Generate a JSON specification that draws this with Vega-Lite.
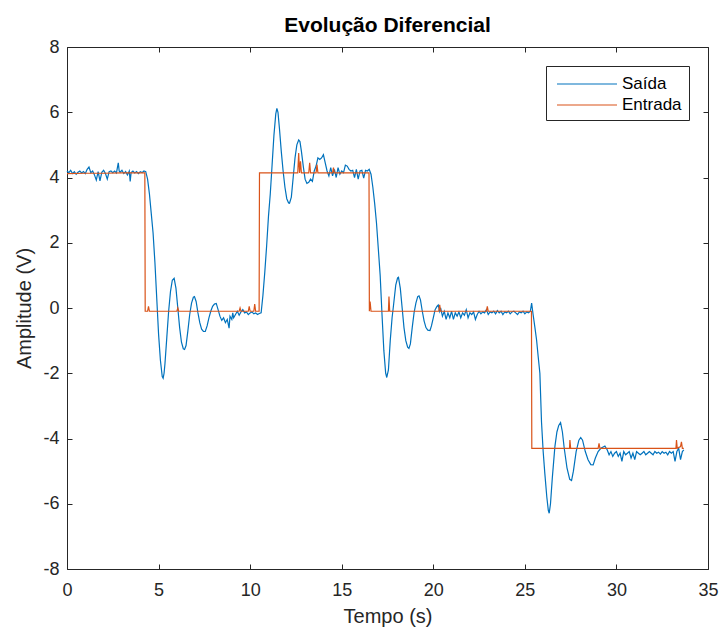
{
  "$schema": "https://vega.github.io/schema/vega-lite/v6.json",
  "autosize": {"type": "none"},
  "width": 641,
  "height": 522,
  "padding": {"left": 67, "top": 47, "right": 12, "bottom": 59},
  "background": "white",
  "config": {
    "font": "Liberation Sans",
    "view": {"stroke": null},
    "axis": {"grid": false, "domainColor": "#262626", "tickColor": "#262626", "labelColor": "#262626", "titleColor": "#262626", "labelFont": "Liberation Sans", "titleFont": "Liberation Sans", "titleFontWeight": "normal", "domainWidth": 1, "tickWidth": 1}
  },
  "title": {"text": "Evolução Diferencial", "fontSize": 21, "fontWeight": "bold", "color": "#000000", "font": "Liberation Sans", "anchor": "middle", "frame": "group", "baseline": "alphabetic", "offset": 14, "dy": 29},
  "datasets": {
    "saida": [
      {"t":0.0,"v":4.20,"s":"Saída"},{"t":0.1,"v":4.15,"s":"Saída"},{"t":0.2,"v":4.22,"s":"Saída"},{"t":0.3,"v":4.12,"s":"Saída"},{"t":0.4,"v":4.18,"s":"Saída"},{"t":0.5,"v":4.10,"s":"Saída"},{"t":0.6,"v":4.16,"s":"Saída"},{"t":0.7,"v":4.20,"s":"Saída"},{"t":0.8,"v":4.14,"s":"Saída"},{"t":0.9,"v":4.18,"s":"Saída"},
      {"t":1.0,"v":4.12,"s":"Saída"},{"t":1.1,"v":4.25,"s":"Saída"},{"t":1.2,"v":4.32,"s":"Saída"},{"t":1.3,"v":4.15,"s":"Saída"},{"t":1.4,"v":4.20,"s":"Saída"},{"t":1.5,"v":4.08,"s":"Saída"},{"t":1.6,"v":3.92,"s":"Saída"},{"t":1.7,"v":4.18,"s":"Saída"},{"t":1.8,"v":3.90,"s":"Saída"},{"t":1.9,"v":4.16,"s":"Saída"},
      {"t":2.0,"v":4.22,"s":"Saída"},{"t":2.1,"v":4.12,"s":"Saída"},{"t":2.2,"v":3.95,"s":"Saída"},{"t":2.3,"v":4.18,"s":"Saída"},{"t":2.4,"v":4.20,"s":"Saída"},{"t":2.5,"v":4.15,"s":"Saída"},{"t":2.6,"v":4.20,"s":"Saída"},{"t":2.7,"v":4.14,"s":"Saída"},{"t":2.8,"v":4.45,"s":"Saída"},{"t":2.85,"v":4.20,"s":"Saída"},{"t":2.9,"v":4.16,"s":"Saída"},
      {"t":3.0,"v":4.22,"s":"Saída"},{"t":3.1,"v":4.12,"s":"Saída"},{"t":3.2,"v":4.18,"s":"Saída"},{"t":3.3,"v":4.08,"s":"Saída"},{"t":3.4,"v":4.20,"s":"Saída"},{"t":3.45,"v":3.88,"s":"Saída"},{"t":3.5,"v":4.15,"s":"Saída"},{"t":3.6,"v":4.20,"s":"Saída"},{"t":3.7,"v":4.14,"s":"Saída"},{"t":3.8,"v":4.18,"s":"Saída"},{"t":3.9,"v":4.12,"s":"Saída"},
      {"t":4.0,"v":4.18,"s":"Saída"},{"t":4.1,"v":4.15,"s":"Saída"},{"t":4.2,"v":4.20,"s":"Saída"},{"t":4.3,"v":4.18,"s":"Saída"},{"t":4.4,"v":3.95,"s":"Saída"},{"t":4.5,"v":3.5,"s":"Saída"},{"t":4.6,"v":2.9,"s":"Saída"},{"t":4.7,"v":2.3,"s":"Saída"},{"t":4.8,"v":1.4,"s":"Saída"},{"t":4.9,"v":0.3,"s":"Saída"},
      {"t":5.0,"v":-0.8,"s":"Saída"},{"t":5.1,"v":-1.6,"s":"Saída"},{"t":5.2,"v":-2.1,"s":"Saída"},{"t":5.25,"v":-2.15,"s":"Saída"},{"t":5.3,"v":-2.0,"s":"Saída"},{"t":5.35,"v":-1.7,"s":"Saída"},{"t":5.45,"v":-0.9,"s":"Saída"},{"t":5.55,"v":-0.1,"s":"Saída"},{"t":5.65,"v":0.5,"s":"Saída"},{"t":5.75,"v":0.85,"s":"Saída"},{"t":5.85,"v":0.91,"s":"Saída"},{"t":5.95,"v":0.6,"s":"Saída"},
      {"t":6.05,"v":0.0,"s":"Saída"},{"t":6.15,"v":-0.6,"s":"Saída"},{"t":6.25,"v":-1.05,"s":"Saída"},{"t":6.35,"v":-1.25,"s":"Saída"},{"t":6.42,"v":-1.27,"s":"Saída"},{"t":6.5,"v":-1.15,"s":"Saída"},{"t":6.6,"v":-0.7,"s":"Saída"},{"t":6.7,"v":-0.2,"s":"Saída"},{"t":6.8,"v":0.15,"s":"Saída"},{"t":6.9,"v":0.33,"s":"Saída"},{"t":6.96,"v":0.35,"s":"Saída"},
      {"t":7.05,"v":0.2,"s":"Saída"},{"t":7.15,"v":-0.15,"s":"Saída"},{"t":7.25,"v":-0.45,"s":"Saída"},{"t":7.35,"v":-0.65,"s":"Saída"},{"t":7.45,"v":-0.72,"s":"Saída"},{"t":7.55,"v":-0.72,"s":"Saída"},{"t":7.65,"v":-0.55,"s":"Saída"},{"t":7.75,"v":-0.3,"s":"Saída"},{"t":7.85,"v":-0.1,"s":"Saída"},{"t":7.95,"v":0.05,"s":"Saída"},
      {"t":8.05,"v":0.12,"s":"Saída"},{"t":8.15,"v":0.14,"s":"Saída"},{"t":8.25,"v":-0.05,"s":"Saída"},{"t":8.35,"v":-0.25,"s":"Saída"},{"t":8.45,"v":-0.38,"s":"Saída"},{"t":8.55,"v":-0.3,"s":"Saída"},{"t":8.65,"v":-0.45,"s":"Saída"},{"t":8.75,"v":-0.35,"s":"Saída"},{"t":8.85,"v":-0.62,"s":"Saída"},{"t":8.9,"v":-0.25,"s":"Saída"},
      {"t":9.0,"v":-0.35,"s":"Saída"},{"t":9.05,"v":-0.15,"s":"Saída"},{"t":9.1,"v":-0.3,"s":"Saída"},{"t":9.2,"v":-0.2,"s":"Saída"},{"t":9.3,"v":-0.1,"s":"Saída"},{"t":9.4,"v":-0.22,"s":"Saída"},{"t":9.5,"v":-0.12,"s":"Saída"},{"t":9.6,"v":-0.05,"s":"Saída"},{"t":9.7,"v":-0.15,"s":"Saída"},{"t":9.8,"v":-0.12,"s":"Saída"},{"t":9.9,"v":-0.2,"s":"Saída"},
      {"t":10.0,"v":-0.15,"s":"Saída"},{"t":10.1,"v":-0.12,"s":"Saída"},{"t":10.2,"v":-0.18,"s":"Saída"},{"t":10.3,"v":-0.15,"s":"Saída"},{"t":10.4,"v":-0.2,"s":"Saída"},{"t":10.5,"v":-0.17,"s":"Saída"},{"t":10.6,"v":-0.15,"s":"Saída"},{"t":10.7,"v":0.4,"s":"Saída"},{"t":10.8,"v":1.1,"s":"Saída"},{"t":10.9,"v":1.9,"s":"Saída"},
      {"t":11.0,"v":2.8,"s":"Saída"},{"t":11.1,"v":3.5,"s":"Saída"},{"t":11.2,"v":4.4,"s":"Saída"},{"t":11.3,"v":5.3,"s":"Saída"},{"t":11.4,"v":5.95,"s":"Saída"},{"t":11.46,"v":6.12,"s":"Saída"},{"t":11.52,"v":6.0,"s":"Saída"},{"t":11.6,"v":5.5,"s":"Saída"},{"t":11.7,"v":4.8,"s":"Saída"},{"t":11.8,"v":4.2,"s":"Saída"},{"t":11.9,"v":3.7,"s":"Saída"},
      {"t":12.0,"v":3.35,"s":"Saída"},{"t":12.1,"v":3.22,"s":"Saída"},{"t":12.15,"v":3.21,"s":"Saída"},{"t":12.25,"v":3.4,"s":"Saída"},{"t":12.35,"v":4.0,"s":"Saída"},{"t":12.45,"v":4.6,"s":"Saída"},{"t":12.55,"v":5.0,"s":"Saída"},{"t":12.65,"v":5.15,"s":"Saída"},{"t":12.72,"v":5.1,"s":"Saída"},{"t":12.8,"v":4.8,"s":"Saída"},{"t":12.9,"v":4.35,"s":"Saída"},
      {"t":13.0,"v":3.95,"s":"Saída"},{"t":13.1,"v":3.82,"s":"Saída"},{"t":13.2,"v":3.85,"s":"Saída"},{"t":13.3,"v":3.95,"s":"Saída"},{"t":13.4,"v":3.88,"s":"Saída"},{"t":13.5,"v":4.2,"s":"Saída"},{"t":13.6,"v":4.35,"s":"Saída"},{"t":13.7,"v":4.6,"s":"Saída"},{"t":13.8,"v":4.55,"s":"Saída"},{"t":13.9,"v":4.6,"s":"Saída"},
      {"t":14.0,"v":4.7,"s":"Saída"},{"t":14.1,"v":4.45,"s":"Saída"},{"t":14.2,"v":4.2,"s":"Saída"},{"t":14.3,"v":4.05,"s":"Saída"},{"t":14.4,"v":4.3,"s":"Saída"},{"t":14.5,"v":4.05,"s":"Saída"},{"t":14.6,"v":4.25,"s":"Saída"},{"t":14.7,"v":4.0,"s":"Saída"},{"t":14.8,"v":4.3,"s":"Saída"},{"t":14.9,"v":4.1,"s":"Saída"},
      {"t":15.0,"v":4.2,"s":"Saída"},{"t":15.1,"v":4.15,"s":"Saída"},{"t":15.2,"v":4.38,"s":"Saída"},{"t":15.3,"v":4.35,"s":"Saída"},{"t":15.4,"v":4.25,"s":"Saída"},{"t":15.5,"v":4.2,"s":"Saída"},{"t":15.6,"v":4.22,"s":"Saída"},{"t":15.7,"v":4.0,"s":"Saída"},{"t":15.8,"v":4.25,"s":"Saída"},{"t":15.9,"v":3.95,"s":"Saída"},
      {"t":16.0,"v":4.2,"s":"Saída"},{"t":16.1,"v":4.22,"s":"Saída"},{"t":16.2,"v":3.98,"s":"Saída"},{"t":16.3,"v":4.22,"s":"Saída"},{"t":16.4,"v":4.2,"s":"Saída"},{"t":16.5,"v":4.25,"s":"Saída"},{"t":16.6,"v":4.1,"s":"Saída"},{"t":16.7,"v":3.7,"s":"Saída"},{"t":16.8,"v":3.2,"s":"Saída"},{"t":16.9,"v":2.6,"s":"Saída"},
      {"t":17.0,"v":1.8,"s":"Saída"},{"t":17.1,"v":1.0,"s":"Saída"},{"t":17.2,"v":-0.2,"s":"Saída"},{"t":17.3,"v":-1.3,"s":"Saída"},{"t":17.4,"v":-2.0,"s":"Saída"},{"t":17.46,"v":-2.13,"s":"Saída"},{"t":17.55,"v":-1.9,"s":"Saída"},{"t":17.65,"v":-1.0,"s":"Saída"},{"t":17.75,"v":-0.3,"s":"Saída"},{"t":17.82,"v":0.04,"s":"Saída"},{"t":17.95,"v":0.7,"s":"Saída"},
      {"t":18.05,"v":0.92,"s":"Saída"},{"t":18.1,"v":0.94,"s":"Saída"},{"t":18.2,"v":0.6,"s":"Saída"},{"t":18.3,"v":0.0,"s":"Saída"},{"t":18.4,"v":-0.6,"s":"Saída"},{"t":18.5,"v":-1.0,"s":"Saída"},{"t":18.6,"v":-1.2,"s":"Saída"},{"t":18.67,"v":-1.24,"s":"Saída"},{"t":18.75,"v":-1.1,"s":"Saída"},{"t":18.85,"v":-0.6,"s":"Saída"},{"t":18.95,"v":-0.15,"s":"Saída"},
      {"t":19.05,"v":0.15,"s":"Saída"},{"t":19.15,"v":0.35,"s":"Saída"},{"t":19.22,"v":0.37,"s":"Saída"},{"t":19.3,"v":0.25,"s":"Saída"},{"t":19.4,"v":-0.1,"s":"Saída"},{"t":19.5,"v":-0.4,"s":"Saída"},{"t":19.6,"v":-0.6,"s":"Saída"},{"t":19.7,"v":-0.68,"s":"Saída"},{"t":19.82,"v":-0.69,"s":"Saída"},{"t":19.9,"v":-0.55,"s":"Saída"},
      {"t":20.0,"v":-0.3,"s":"Saída"},{"t":20.1,"v":-0.05,"s":"Saída"},{"t":20.2,"v":0.05,"s":"Saída"},{"t":20.27,"v":0.09,"s":"Saída"},{"t":20.35,"v":-0.1,"s":"Saída"},{"t":20.4,"v":0.0,"s":"Saída"},{"t":20.5,"v":-0.25,"s":"Saída"},{"t":20.6,"v":-0.1,"s":"Saída"},{"t":20.7,"v":-0.35,"s":"Saída"},{"t":20.8,"v":-0.15,"s":"Saída"},{"t":20.9,"v":-0.3,"s":"Saída"},
      {"t":21.0,"v":-0.1,"s":"Saída"},{"t":21.1,"v":-0.35,"s":"Saída"},{"t":21.2,"v":-0.15,"s":"Saída"},{"t":21.3,"v":-0.25,"s":"Saída"},{"t":21.4,"v":-0.12,"s":"Saída"},{"t":21.5,"v":-0.3,"s":"Saída"},{"t":21.6,"v":-0.15,"s":"Saída"},{"t":21.7,"v":-0.22,"s":"Saída"},{"t":21.8,"v":-0.05,"s":"Saída"},{"t":21.9,"v":-0.3,"s":"Saída"},
      {"t":22.0,"v":-0.15,"s":"Saída"},{"t":22.1,"v":-0.2,"s":"Saída"},{"t":22.2,"v":-0.12,"s":"Saída"},{"t":22.3,"v":-0.35,"s":"Saída"},{"t":22.4,"v":-0.2,"s":"Saída"},{"t":22.5,"v":-0.1,"s":"Saída"},{"t":22.6,"v":-0.18,"s":"Saída"},{"t":22.7,"v":-0.12,"s":"Saída"},{"t":22.8,"v":-0.15,"s":"Saída"},{"t":22.9,"v":-0.05,"s":"Saída"},
      {"t":23.0,"v":-0.2,"s":"Saída"},{"t":23.1,"v":-0.12,"s":"Saída"},{"t":23.2,"v":-0.15,"s":"Saída"},{"t":23.3,"v":-0.1,"s":"Saída"},{"t":23.4,"v":-0.18,"s":"Saída"},{"t":23.5,"v":-0.08,"s":"Saída"},{"t":23.6,"v":-0.15,"s":"Saída"},{"t":23.7,"v":-0.1,"s":"Saída"},{"t":23.8,"v":-0.2,"s":"Saída"},{"t":23.9,"v":-0.12,"s":"Saída"},
      {"t":24.0,"v":-0.15,"s":"Saída"},{"t":24.1,"v":-0.1,"s":"Saída"},{"t":24.2,"v":-0.18,"s":"Saída"},{"t":24.3,"v":-0.12,"s":"Saída"},{"t":24.4,"v":-0.1,"s":"Saída"},{"t":24.5,"v":-0.15,"s":"Saída"},{"t":24.6,"v":-0.2,"s":"Saída"},{"t":24.7,"v":-0.12,"s":"Saída"},{"t":24.8,"v":-0.15,"s":"Saída"},{"t":24.9,"v":-0.1,"s":"Saída"},
      {"t":25.0,"v":-0.18,"s":"Saída"},{"t":25.1,"v":-0.12,"s":"Saída"},{"t":25.2,"v":-0.15,"s":"Saída"},{"t":25.3,"v":-0.1,"s":"Saída"},{"t":25.37,"v":0.15,"s":"Saída"},{"t":25.45,"v":-0.2,"s":"Saída"},{"t":25.55,"v":-0.6,"s":"Saída"},{"t":25.64,"v":-0.98,"s":"Saída"},{"t":25.73,"v":-1.5,"s":"Saída"},{"t":25.82,"v":-2.0,"s":"Saída"},{"t":25.91,"v":-3.5,"s":"Saída"},
      {"t":26.0,"v":-4.4,"s":"Saída"},{"t":26.09,"v":-5.07,"s":"Saída"},{"t":26.2,"v":-5.8,"s":"Saída"},{"t":26.28,"v":-6.2,"s":"Saída"},{"t":26.33,"v":-6.29,"s":"Saída"},{"t":26.4,"v":-6.0,"s":"Saída"},{"t":26.5,"v":-5.2,"s":"Saída"},{"t":26.64,"v":-4.25,"s":"Saída"},{"t":26.75,"v":-3.8,"s":"Saída"},{"t":26.85,"v":-3.6,"s":"Saída"},{"t":26.95,"v":-3.51,"s":"Saída"},
      {"t":27.05,"v":-3.8,"s":"Saída"},{"t":27.15,"v":-4.3,"s":"Saída"},{"t":27.3,"v":-4.9,"s":"Saída"},{"t":27.45,"v":-5.25,"s":"Saída"},{"t":27.55,"v":-5.29,"s":"Saída"},{"t":27.65,"v":-5.0,"s":"Saída"},{"t":27.8,"v":-4.4,"s":"Saída"},{"t":27.95,"v":-4.05,"s":"Saída"},
      {"t":28.05,"v":-3.97,"s":"Saída"},{"t":28.15,"v":-4.05,"s":"Saída"},{"t":28.3,"v":-4.4,"s":"Saída"},{"t":28.45,"v":-4.65,"s":"Saída"},{"t":28.6,"v":-4.8,"s":"Saída"},{"t":28.73,"v":-4.81,"s":"Saída"},{"t":28.85,"v":-4.6,"s":"Saída"},
      {"t":29.0,"v":-4.4,"s":"Saída"},{"t":29.15,"v":-4.3,"s":"Saída"},{"t":29.3,"v":-4.25,"s":"Saída"},{"t":29.37,"v":-4.23,"s":"Saída"},{"t":29.5,"v":-4.35,"s":"Saída"},{"t":29.6,"v":-4.5,"s":"Saída"},{"t":29.7,"v":-4.4,"s":"Saída"},{"t":29.8,"v":-4.55,"s":"Saída"},{"t":29.9,"v":-4.45,"s":"Saída"},
      {"t":30.0,"v":-4.4,"s":"Saída"},{"t":30.1,"v":-4.55,"s":"Saída"},{"t":30.2,"v":-4.45,"s":"Saída"},{"t":30.3,"v":-4.7,"s":"Saída"},{"t":30.4,"v":-4.4,"s":"Saída"},{"t":30.5,"v":-4.5,"s":"Saída"},{"t":30.6,"v":-4.45,"s":"Saída"},{"t":30.7,"v":-4.4,"s":"Saída"},{"t":30.8,"v":-4.6,"s":"Saída"},{"t":30.9,"v":-4.45,"s":"Saída"},
      {"t":31.0,"v":-4.65,"s":"Saída"},{"t":31.1,"v":-4.4,"s":"Saída"},{"t":31.2,"v":-4.45,"s":"Saída"},{"t":31.3,"v":-4.5,"s":"Saída"},{"t":31.4,"v":-4.45,"s":"Saída"},{"t":31.5,"v":-4.4,"s":"Saída"},{"t":31.6,"v":-4.5,"s":"Saída"},{"t":31.7,"v":-4.45,"s":"Saída"},{"t":31.8,"v":-4.4,"s":"Saída"},{"t":31.9,"v":-4.45,"s":"Saída"},
      {"t":32.0,"v":-4.5,"s":"Saída"},{"t":32.1,"v":-4.4,"s":"Saída"},{"t":32.2,"v":-4.45,"s":"Saída"},{"t":32.3,"v":-4.42,"s":"Saída"},{"t":32.4,"v":-4.48,"s":"Saída"},{"t":32.5,"v":-4.4,"s":"Saída"},{"t":32.6,"v":-4.45,"s":"Saída"},{"t":32.7,"v":-4.42,"s":"Saída"},{"t":32.8,"v":-4.5,"s":"Saída"},{"t":32.9,"v":-4.4,"s":"Saída"},
      {"t":33.0,"v":-4.45,"s":"Saída"},{"t":33.1,"v":-4.4,"s":"Saída"},{"t":33.2,"v":-4.7,"s":"Saída"},{"t":33.3,"v":-4.4,"s":"Saída"},{"t":33.4,"v":-4.3,"s":"Saída"},{"t":33.5,"v":-4.65,"s":"Saída"},{"t":33.6,"v":-4.4,"s":"Saída"},{"t":33.68,"v":-4.35,"s":"Saída"}
    ],
    "entrada": [
      {"t":0.0,"v":4.12,"s":"Entrada"},{"t":1.0,"v":4.13,"s":"Entrada"},{"t":2.0,"v":4.13,"s":"Entrada"},{"t":3.0,"v":4.14,"s":"Entrada"},{"t":4.25,"v":4.14,"s":"Entrada"},{"t":4.27,"v":-0.1,"s":"Entrada"},
      {"t":4.4,"v":-0.1,"s":"Entrada"},{"t":4.45,"v":0.05,"s":"Entrada"},{"t":4.5,"v":-0.1,"s":"Entrada"},{"t":6.0,"v":-0.1,"s":"Entrada"},{"t":6.05,"v":0.0,"s":"Entrada"},{"t":6.1,"v":-0.1,"s":"Entrada"},
      {"t":9.4,"v":-0.1,"s":"Entrada"},{"t":9.45,"v":0.0,"s":"Entrada"},{"t":9.5,"v":-0.1,"s":"Entrada"},{"t":9.9,"v":-0.1,"s":"Entrada"},{"t":9.95,"v":0.05,"s":"Entrada"},{"t":10.0,"v":-0.1,"s":"Entrada"},
      {"t":10.2,"v":-0.1,"s":"Entrada"},{"t":10.25,"v":0.12,"s":"Entrada"},{"t":10.3,"v":-0.1,"s":"Entrada"},{"t":10.49,"v":-0.1,"s":"Entrada"},{"t":10.51,"v":4.14,"s":"Entrada"},
      {"t":12.6,"v":4.14,"s":"Entrada"},{"t":12.65,"v":4.75,"s":"Entrada"},{"t":12.7,"v":4.14,"s":"Entrada"},{"t":12.75,"v":4.5,"s":"Entrada"},{"t":12.8,"v":4.14,"s":"Entrada"},
      {"t":13.2,"v":4.14,"s":"Entrada"},{"t":13.25,"v":4.45,"s":"Entrada"},{"t":13.3,"v":4.14,"s":"Entrada"},{"t":13.6,"v":4.14,"s":"Entrada"},{"t":13.65,"v":4.4,"s":"Entrada"},{"t":13.7,"v":4.14,"s":"Entrada"},
      {"t":14.5,"v":4.14,"s":"Entrada"},{"t":14.55,"v":4.3,"s":"Entrada"},{"t":14.6,"v":4.14,"s":"Entrada"},{"t":16.49,"v":4.14,"s":"Entrada"},{"t":16.51,"v":-0.1,"s":"Entrada"},{"t":16.55,"v":0.2,"s":"Entrada"},{"t":16.6,"v":-0.1,"s":"Entrada"},
      {"t":17.55,"v":-0.1,"s":"Entrada"},{"t":17.58,"v":0.35,"s":"Entrada"},{"t":17.62,"v":-0.1,"s":"Entrada"},{"t":20.3,"v":-0.1,"s":"Entrada"},{"t":20.35,"v":0.1,"s":"Entrada"},{"t":20.4,"v":-0.1,"s":"Entrada"},
      {"t":22.9,"v":-0.1,"s":"Entrada"},{"t":22.95,"v":0.05,"s":"Entrada"},{"t":23.0,"v":-0.1,"s":"Entrada"},{"t":25.36,"v":-0.1,"s":"Entrada"},{"t":25.38,"v":-4.3,"s":"Entrada"},
      {"t":27.44,"v":-4.3,"s":"Entrada"},{"t":27.46,"v":-4.05,"s":"Entrada"},{"t":27.5,"v":-4.3,"s":"Entrada"},{"t":29.0,"v":-4.3,"s":"Entrada"},{"t":29.05,"v":-4.15,"s":"Entrada"},{"t":29.1,"v":-4.3,"s":"Entrada"},
      {"t":33.25,"v":-4.3,"s":"Entrada"},{"t":33.28,"v":-4.05,"s":"Entrada"},{"t":33.32,"v":-4.3,"s":"Entrada"},{"t":33.5,"v":-4.25,"s":"Entrada"},{"t":33.55,"v":-4.1,"s":"Entrada"},{"t":33.6,"v":-4.3,"s":"Entrada"},{"t":33.68,"v":-4.3,"s":"Entrada"}
    ]
  },
  "layer": [
    {
      "data": {"name": "saida"},
      "mark": {"type": "line", "strokeWidth": 1.2, "interpolate": "linear"},
      "encoding": {
        "x": {"field": "t", "type": "quantitative", "scale": {"domain": [0, 35], "nice": false, "zero": false},
              "axis": {"orient": "bottom", "title": "Tempo (s)", "values": [0,5,10,15,20,25,30,35], "tickSize": -5, "labelPadding": 17, "labelFontSize": 18, "titleFontSize": 20, "titlePadding": 7, "labelFlush": false}},
        "y": {"field": "v", "type": "quantitative", "scale": {"domain": [-8, 8], "nice": false, "zero": false},
              "axis": {"orient": "left", "title": "Amplitude (V)", "values": [-8,-6,-4,-2,0,2,4,6,8], "tickSize": -5, "labelPadding": 13, "labelFontSize": 18, "titleFontSize": 20, "titlePadding": 8, "labelFlush": false,
                       "labelExpr": "datum.value < 0 ? '-' + abs(datum.value) : '' + datum.value"}},
        "color": {"field": "s", "type": "nominal", "scale": {"domain": ["Saída", "Entrada"], "range": ["#0072BD", "#D95319"]},
                  "legend": {"title": null, "orient": "none", "legendX": 479, "legendY": 19, "strokeColor": "#262626", "fillColor": "white", "padding": 7, "cornerRadius": 0, "symbolType": "M-3,0H3", "symbolSize": 400, "symbolStrokeWidth": 1.2, "symbolOffset": 23, "labelOffset": 24, "labelFontSize": 17, "labelFont": "Liberation Sans", "labelColor": "#000000", "rowPadding": 2}}
      }
    },
    {
      "data": {"name": "entrada"},
      "mark": {"type": "line", "strokeWidth": 1.2, "interpolate": "linear"},
      "encoding": {
        "x": {"field": "t", "type": "quantitative",
              "axis": {"orient": "top", "title": null, "labels": false, "values": [0,5,10,15,20,25,30,35], "tickSize": -5}},
        "y": {"field": "v", "type": "quantitative",
              "axis": {"orient": "right", "title": null, "labels": false, "values": [-8,-6,-4,-2,0,2,4,6,8], "tickSize": -5}},
        "color": {"field": "s", "type": "nominal"}
      }
    }
  ],
  "resolve": {"axis": {"x": "independent", "y": "independent"}}
}
